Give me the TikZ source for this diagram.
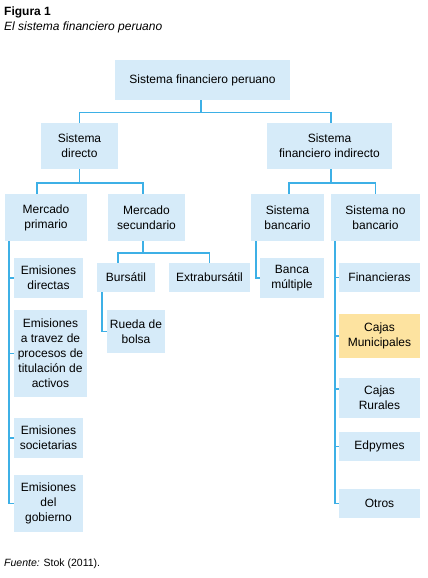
\documentclass[tikz,border=0pt]{standalone}
\usepackage{fontspec}
\setmainfont{Liberation Sans}
\usepackage{xcolor}
\usepackage{tikz}
\definecolor{sfblue}{HTML}{D6EBF9}
\definecolor{sfline}{HTML}{3DB0E6}
\definecolor{sfyellow}{HTML}{FDE3A0}

\begin{document}
\begin{tikzpicture}[x=1pt,y=-1pt,
  sfbox/.style={fill=sfblue,inner sep=0pt,align=center,font=\fontsize{12}{15}\selectfont},
  sflink/.style={draw=sfline,line width=1.3pt}]
  \useasboundingbox (0,0) rectangle (428,578);
  % titulo
  \node[anchor=base west,inner sep=0pt,font=\bfseries\fontsize{12}{14}\selectfont] (fig) at (4,16) {Figura 1};
  \node[anchor=base west,inner sep=0pt,font=\itshape\fontsize{12}{14}\selectfont] (tit) at (4,30.5) {El sistema financiero peruano};
  % cajas
  \node[sfbox,minimum width=175,minimum height=40] (top) at (202.5,80) {Sistema financiero peruano};
  \node[sfbox,minimum width=77,minimum height=46] (dir) at (79.5,146) {Sistema\\directo};
  \node[sfbox,minimum width=125,minimum height=46] (ind) at (329.5,146) {Sistema\\financiero indirecto};
  \node[sfbox,minimum width=82,minimum height=47] (prim) at (46,217.5) {Mercado\\primario};
  \node[sfbox,minimum width=77,minimum height=47] (sec) at (146.5,217.5) {Mercado\\secundario};
  \node[sfbox,minimum width=58,minimum height=29] (bur) at (126,277.5) {Bursátil};
  \node[sfbox,minimum width=81,minimum height=29] (extra) at (209.5,277.5) {Extrabursátil};
  \node[sfbox,minimum width=58,minimum height=43] (rueda) at (136,331.5) {Rueda de\\bolsa};
  \node[sfbox,minimum width=69,minimum height=40] (edir) at (48.5,278) {Emisiones\\directas};
  \node[sfbox,minimum width=73,minimum height=87] (etit) at (50.5,353.5) {Emisiones\\a travez de\\procesos de\\titulación de\\activos};
  \node[sfbox,minimum width=69,minimum height=40] (esoc) at (48.5,438) {Emisiones\\societarias};
  \node[sfbox,minimum width=69,minimum height=57] (egob) at (48.5,503.5) {Emisiones\\del\\gobierno};
  \node[sfbox,minimum width=73,minimum height=47] (banc) at (287.5,217.5) {Sistema\\bancario};
  \node[sfbox,minimum width=89,minimum height=47] (nob) at (375.5,217.5) {Sistema no\\bancario};
  \node[sfbox,minimum width=64,minimum height=40] (bmul) at (292,278) {Banca\\múltiple};
  \node[sfbox,minimum width=81,minimum height=29] (fin) at (379.5,277.5) {Financieras};
  \node[sfbox,fill=sfyellow,minimum width=81,minimum height=44] (cmun) at (379.5,336) {Cajas\\Municipales};
  \node[sfbox,minimum width=81,minimum height=40] (crur) at (379.5,398) {Cajas\\Rurales};
  \node[sfbox,minimum width=81,minimum height=29] (edp) at (379.5,446.5) {Edpymes};
  \node[sfbox,minimum width=81,minimum height=29] (otr) at (379.5,503.5) {Otros};
  % conectores
  \coordinate (j1) at (201,112.7);
  \coordinate (j2) at (79.5,183);
  \coordinate (j3) at (143,253);
  \coordinate (j4) at (331,183);
  \coordinate (ptop) at (9,241);
  \coordinate (ntop) at (335,241);
  \coordinate (crurt) at ([yshift=9]crur.west);
  \draw[sflink] ([xshift=-1.5]top.south) -- (j1);
  \draw[sflink] (dir.north) |- (j1) -| ([xshift=1.5]ind.north);
  \draw[sflink] (dir.south) -- (j2);
  \draw[sflink] ([xshift=-9]prim.north) |- (j2) -| ([xshift=-3.5]sec.north);
  \draw[sflink] ([xshift=-3.5]sec.south) -- (j3);
  \draw[sflink] ([xshift=-8]bur.north) |- (j3) -| (extra.north);
  \draw[sflink] ([xshift=-24]bur.south) |- (rueda.west);
  \draw[sflink] ([xshift=1.5]ind.south) -- (j4);
  \draw[sflink] ([xshift=1.5]banc.north) |- (j4) -| (nob.north);
  \draw[sflink] ([xshift=-31.5]banc.south) |- (bmul.west);
  \draw[sflink] (ptop) |- (egob.west);
  \foreach \n in {edir,etit,esoc}
    \draw[sflink] (ptop |- \n.west) -- (\n.west);
  \draw[sflink] (ntop) |- (otr.west);
  \foreach \n in {fin,cmun,edp}
    \draw[sflink] (ntop |- \n.west) -- (\n.west);
  \draw[sflink] (ntop |- crurt) -- (crurt);
  % fuente
  \node[anchor=base west,inner sep=0pt,font=\fontsize{10.5}{12}\selectfont] (src) at (4,566) {\textit{Fuente:} Stok (2011).};
\end{tikzpicture}
\end{document}
